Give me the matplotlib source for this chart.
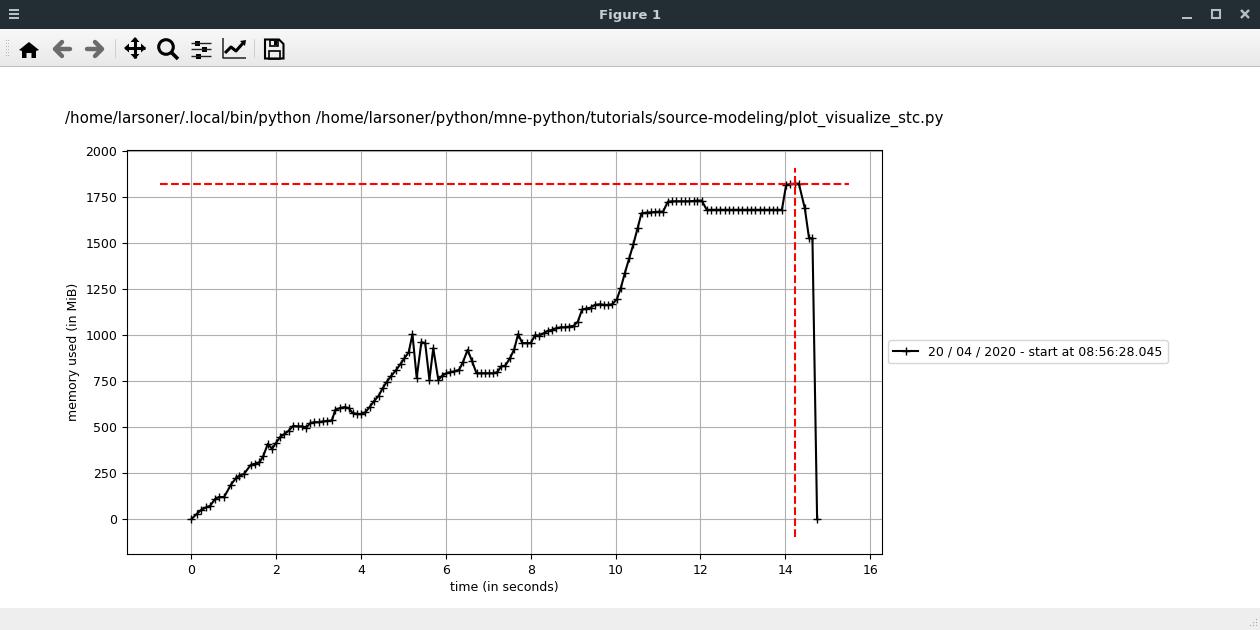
import numpy as np
import matplotlib
matplotlib.use('Agg')
import matplotlib.pyplot as plt
from matplotlib.patches import Circle, Polygon, Rectangle

W, H = 1260, 630

TITLE = '/home/larsoner/.local/bin/python /home/larsoner/python/mne-python/tutorials/source-modeling/plot_visualize_stc.py'
LEGEND_LABEL = '20 / 04 / 2020 - start at 08:56:28.045'
X_LABEL = 'time (in seconds)'
Y_LABEL = 'memory used (in MiB)'

times = [
    0.00, 0.12, 0.23, 0.34, 0.44, 0.56, 0.65, 0.77, 0.93, 1.05,
    1.13, 1.24, 1.40, 1.50, 1.60, 1.69, 1.80, 1.90, 1.99, 2.09,
    2.19, 2.29, 2.40, 2.50, 2.61, 2.70, 2.80, 2.90, 3.00, 3.10,
    3.20, 3.31, 3.39, 3.49, 3.61, 3.71, 3.80, 3.91, 4.00, 4.10,
    4.20, 4.30, 4.41, 4.51, 4.61, 4.71, 4.83, 4.93, 5.02, 5.12,
    5.21, 5.31, 5.42, 5.51, 5.61, 5.70, 5.82, 5.91, 6.01, 6.10,
    6.20, 6.31, 6.40, 6.51, 6.61, 6.72, 6.82, 6.91, 7.01, 7.11,
    7.21, 7.30, 7.40, 7.51, 7.61, 7.70, 7.80, 7.91, 8.00, 8.10,
    8.20, 8.31, 8.40, 8.50, 8.60, 8.71, 8.81, 8.91, 9.01, 9.11,
    9.21, 9.31, 9.41, 9.51, 9.63, 9.72, 9.83, 9.92, 10.03, 10.12,
    10.22, 10.32, 10.42, 10.52, 10.61, 10.73, 10.83, 10.93, 11.03, 11.12,
    11.23, 11.33, 11.43, 11.53, 11.64, 11.74, 11.84, 11.93, 12.03, 12.15,
    12.25, 12.36, 12.46, 12.57, 12.67, 12.77, 12.88, 12.98, 13.09, 13.19,
    13.29, 13.40, 13.50, 13.61, 13.71, 13.81, 13.92, 14.02, 14.12, 14.22,
    14.32, 14.46, 14.56, 14.64, 14.75,
]
memory = [
    0, 27, 50, 63, 72, 110, 120, 120, 187, 223,
    236, 246, 295, 301, 308, 341, 409, 382, 413, 446,
    462, 480, 507, 504, 504, 495, 522, 527, 527, 531,
    534, 536, 594, 603, 609, 603, 576, 572, 572, 581,
    609, 640, 670, 712, 748, 779, 812, 844, 875, 906,
    1005, 768, 962, 957, 757, 929, 757, 779, 793, 799,
    803, 812, 853, 920, 862, 793, 793, 793, 793, 793,
    799, 830, 835, 875, 924, 1005, 957, 957, 957, 1000,
    998, 1011, 1024, 1029, 1038, 1043, 1043, 1047, 1051, 1074,
    1140, 1145, 1150, 1165, 1168, 1165, 1165, 1168, 1196, 1255,
    1340, 1417, 1496, 1583, 1663, 1667, 1668, 1670, 1672, 1672,
    1726, 1728, 1728, 1728, 1728, 1728, 1730, 1732, 1732, 1681,
    1682, 1682, 1682, 1682, 1682, 1682, 1682, 1682, 1682, 1682,
    1682, 1682, 1682, 1682, 1682, 1682, 1682, 1817, 1822, 1824,
    1824, 1690, 1527, 1527, 0,
]
peak_memory = 1824
peak_time = 14.24

plt.rcParams['font.size'] = 9

fig = plt.figure(figsize=(W / 100, H / 100), dpi=100, facecolor='white')


def px_rect(left, top, right, bottom):
    # figure fraction rectangle from screenshot pixels
    return [left / W, 1 - bottom / H, (right - left) / W, (bottom - top) / H]


ax = fig.add_axes(px_rect(127, 150, 882, 554))
ax.plot(times, memory, '+-', color='k', label=LEGEND_LABEL)
ax.hlines(peak_memory, -0.75, 15.5, colors='r', linestyles='--')
ax.vlines(peak_time, -95, 1910, colors='r', linestyles='--')
ax.set_xlim(-1.52, 16.28)
ax.set_ylim(-190, 2007)
ax.set_xticks(np.arange(0, 17, 2))
ax.set_yticks(np.arange(0, 2001, 250))
ax.set_xlabel(X_LABEL, labelpad=3)
ax.set_ylabel(Y_LABEL)
ax.grid(True)
ax.legend(loc='center left', bbox_to_anchor=(1.0, 0.5))
fig.text(65 / W, 1 - 118.5 / H, TITLE, fontsize=10.8, ha='left', va='center')

# window decoration, drawn on a full figure axes in screen pixels
ui = fig.add_axes([0, 0, 1, 1], zorder=5)
ui.set_xlim(0, W)
ui.set_ylim(H, 0)
ui.axis('off')

BAR = '#232e34'
LIGHT = '#b4c0c4'
GREY = '#6b6b6b'


def bar(x0, y0, x1, y1, color):
    ui.add_patch(Rectangle((x0, y0), x1 - x0, y1 - y0, fc=color, ec='none'))


def line(xs, ys, color='k', lw=1.5, cap='butt'):
    ui.plot(xs, ys, color=color, lw=lw, solid_capstyle=cap, solid_joinstyle='round')


bar(0, 0, W, 29, BAR)
gradient = np.linspace(0, 1, 38).reshape(-1, 1)
ui.imshow(gradient, extent=(0, W, 66, 29), aspect='auto', cmap=matplotlib.colors.LinearSegmentedColormap.from_list('tb', ['#f8f8f8', '#e9e9e9']), zorder=0)
ui.set_xlim(0, W)
ui.set_ylim(H, 0)
bar(0, 66, W, 67, '#bcbcbc')
bar(0, 608, W, H, '#eeeeee')

ui.text(630.5, 15, 'Figure 1', color='#c3d0d6', fontsize=9.5, fontweight='bold', ha='center', va='center')

# title bar buttons
for y in (9.5, 13.5, 17.5):
    bar(9, y - 1, 19, y + 1, LIGHT)
bar(1182, 16.5, 1192, 18.5, LIGHT)
ui.add_patch(Rectangle((1212, 10), 8, 8, fc='none', ec=LIGHT, lw=1.5))
line([1241, 1249], [10, 18], LIGHT, 1.7)
line([1241, 1249], [18, 10], LIGHT, 1.7)

# toolbar handle and separators
for x in (6, 8):
    ui.plot([x] * 6, np.arange(40, 58, 3), ls='none', marker='s', ms=0.6, mew=0, color='#b5b5b5')
bar(115, 39, 116, 58, '#d0d0d0')
bar(254, 39, 255, 58, '#d0d0d0')

# home
ui.add_patch(Polygon([(19, 50), (29, 42), (39, 50), (36, 51), (36, 58), (31.5, 58), (31.5, 53),
                      (26.5, 53), (26.5, 58), (22, 58), (22, 51)], fc='k', ec='none'))
# back / forward
line([56, 70], [49, 49], GREY, 3.2, cap='round')
line([62, 55, 62], [42, 49, 56], GREY, 3.2, cap='round')
line([87, 101], [49, 49], GREY, 3.2, cap='round')
line([95, 102, 95], [42, 49, 56], GREY, 3.2, cap='round')
# move
line([125, 145], [48, 48], 'k', 2.2)
line([135, 135], [38, 58], 'k', 2.2)
for pts in ([(124, 48), (129, 43.5), (129, 52.5)], [(146, 48), (141, 43.5), (141, 52.5)],
            [(135, 37), (130.5, 42), (139.5, 42)], [(135, 59), (130.5, 54), (139.5, 54)]):
    ui.add_patch(Polygon(pts, fc='k', ec='none'))
# zoom
ui.add_patch(Circle((166, 47), 7.3, fc='none', ec='k', lw=2.2))
line([171, 178], [52, 59], 'k', 2.6)
# sliders
for y, kx in zip((43, 49, 56), (197, 204, 198)):
    line([191, 211], [y, y], '#222222', 1.0)
    bar(kx - 2.5, y - 2.5, kx + 2.5, y + 2.5, 'k')
# chart
line([222.5, 222.5, 246], [38, 57.5, 57.5], '#222222', 1.1)
line([225, 231, 236, 244], [53, 47, 51, 42], 'k', 2.2)
ui.add_patch(Polygon([(240, 41), (246, 40), (245, 46)], fc='k', ec='none'))
# save
ui.add_patch(Polygon([(265, 39.5), (279, 39.5), (283.5, 44), (283.5, 58.5), (265, 58.5)], fc='none', ec='k', lw=1.5))
ui.add_patch(Rectangle((270, 40), 8, 5.5, fc='none', ec='k', lw=1.2))
bar(274, 41, 277, 45, 'k')
ui.add_patch(Rectangle((269, 51), 11, 7.5, fc='none', ec='k', lw=1.2))
# resize grip
for dx, dy in ((0, 6), (3, 3), (3, 6), (6, 0), (6, 3), (6, 6)):
    ui.plot(1250 + dx, 619 + dy, ls='none', marker='s', ms=0.8, mew=0, color='#a8a8a8')

fig.savefig('out.png', dpi=100)
